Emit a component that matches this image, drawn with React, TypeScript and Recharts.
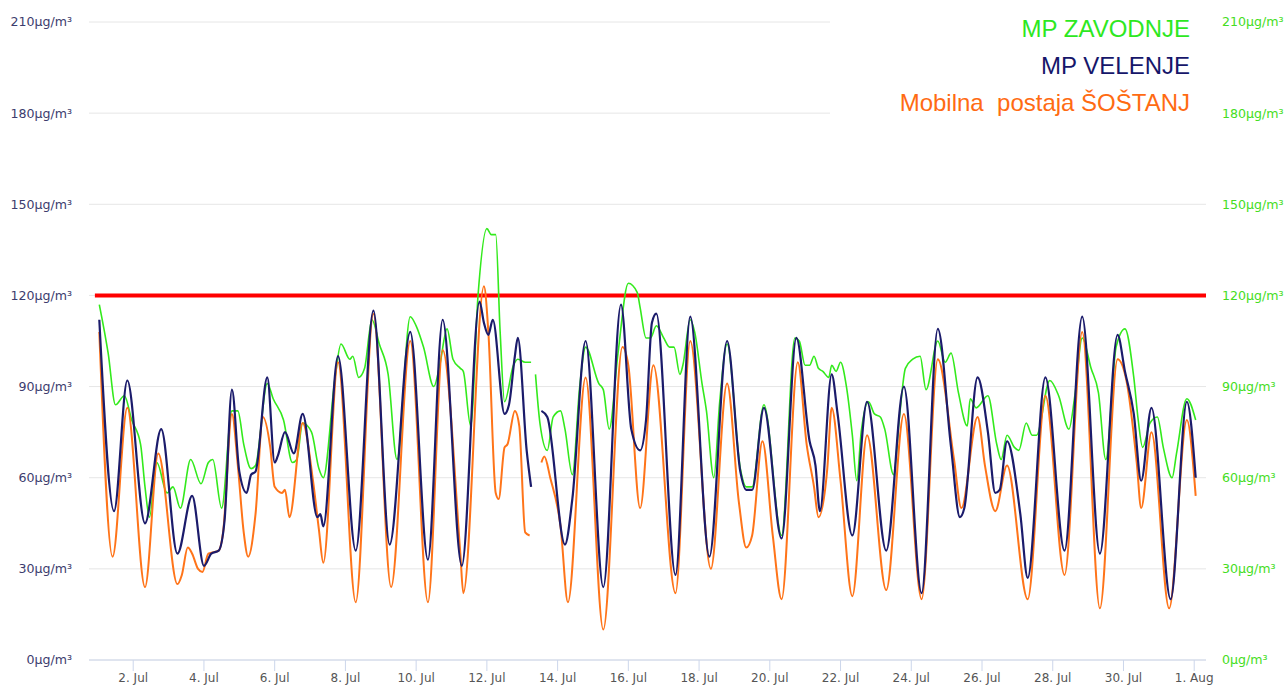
import { LineChart, Line, XAxis, YAxis, CartesianGrid, ReferenceLine } from 'recharts'

// hours since 1 Jul 00:00, µg/m³
const zavodnje: [number, number | null][] = [
  [1, 117], [7, 101], [12, 84], [18, 87], [23, 79], [29, 71], [32, 57], [35, 47], [40, 65], [47, 55],
  [51, 57], [56, 50], [63, 66], [70, 58], [75, 65], [78, 66], [84, 50], [91, 82], [95, 82], [99, 71],
  [104, 63], [107, 64], [115, 91], [119, 86], [126, 79], [132, 65], [135, 66], [139, 78], [145, 75], [150, 63],
  [153, 60], [161, 93], [165, 104], [171, 99], [173, 100], [177, 93], [181, 96], [186, 112], [191, 104], [197, 94],
  [203, 66], [212, 113], [216, 110], [221, 103], [228, 90], [232, 97], [237, 109], [241, 99], [246, 96], [248, 95],
  [253, 77], [258, 120], [264, 142], [267, 140], [270, 140], [273, 108], [276, 85], [282, 97], [285, 99], [290, 98],
  [294, 98], [295, null], [297, 94], [300, 78], [305, 69], [309, 80], [314, 82], [317, 76], [322, 61], [327, 90],
  [331, 103], [340, 91], [343, 89], [347, 76], [353, 101], [360, 124], [366, 121], [368, 116], [372, 106], [375, 106],
  [379, 110], [384, 106], [388, 103], [391, 103], [395, 94], [397, 97], [402, 112], [405, 108], [410, 91], [413, 82],
  [418, 60], [422, 85], [427, 104], [436, 63], [440, 57], [444, 57], [452, 84], [464, 41], [473, 106], [476, 105],
  [480, 97], [483, 97], [486, 100], [489, 96], [492, 95], [496, 93], [498, 97], [501, 95], [504, 98], [508, 90],
  [512, 74], [515, 59], [518, 75], [523, 85], [527, 81], [531, 80], [534, 76], [540, 61], [544, 80], [548, 96],
  [553, 99], [558, 100], [562, 89], [570, 105], [575, 98], [579, 101], [584, 88], [590, 77], [592, 86], [596, 83],
  [604, 87], [610, 71], [613, 66], [617, 74], [622, 70], [625, 69], [630, 78], [634, 74], [637, 74], [646, 92],
  [652, 87], [659, 76], [663, 87], [668, 106], [674, 96], [679, 88], [684, 66], [691, 103], [697, 109], [703, 93],
  [706, 79], [709, 70], [714, 78], [719, 80], [723, 70], [729, 60], [732, 68], [739, 86], [745, 79],
]

const velenje: [number, number | null][] = [
  [1, 112], [11, 49], [20, 92], [32, 45], [43, 76], [54, 35], [64, 54], [72, 31], [77, 35], [82, 36],
  [86, 46], [91, 89], [96, 62], [101, 55], [104, 61], [107, 62], [115, 93], [120, 65], [122, 67], [127, 75],
  [133, 68], [139, 81], [149, 47], [151, 48], [153, 44], [163, 100], [175, 36], [187, 115], [198, 38], [212, 108],
  [224, 33], [234, 112], [247, 31], [259, 118], [262, 111], [265, 107], [268, 112], [276, 81], [279, 84], [283, 100],
  [285, 106], [291, 69], [294, 57], [296, null], [301, 82], [305, 80], [317, 38], [322, 53], [331, 105], [343, 24],
  [355, 117], [362, 76], [368, 69], [372, 79], [376, 111], [379, 114], [392, 28], [402, 113], [415, 34], [427, 105],
  [436, 62], [440, 56], [444, 56], [452, 83], [464, 40], [474, 106], [483, 72], [487, 64], [490, 49], [498, 94],
  [502, 81], [512, 41], [522, 85], [535, 36], [547, 90], [559, 22], [570, 109], [579, 70], [585, 47], [588, 50],
  [597, 93], [604, 75], [609, 55], [612, 56], [617, 72], [626, 48], [631, 27], [643, 93], [656, 36], [668, 113],
  [680, 35], [692, 107], [697, 95], [703, 81], [708, 59], [715, 83], [728, 20], [739, 85], [745, 60],
]

const sostanj: [number, number | null][] = [
  [1, 108], [10, 34], [20, 83], [32, 24], [41, 68], [54, 25], [57, 28], [61, 37], [64, 35], [68, 30],
  [71, 29], [75, 35], [82, 36], [85, 42], [91, 81], [95, 64], [99, 42], [102, 34], [107, 48], [112, 80],
  [117, 70], [120, 57], [125, 55], [127, 56], [130, 47], [139, 78], [146, 59], [150, 43], [153, 32], [163, 98],
  [175, 19], [187, 114], [199, 24], [212, 105], [224, 19], [234, 102], [246, 35], [248, 22], [262, 123], [265, 108],
  [270, 55], [272, 53], [276, 70], [278, 71], [283, 82], [286, 77], [290, 42], [293, 41], [296, null], [301, 65],
  [303, 67], [307, 60], [314, 44], [319, 19], [331, 93], [343, 10], [356, 103], [360, 97], [368, 50], [377, 97],
  [392, 22], [402, 105], [416, 30], [427, 91], [435, 52], [440, 37], [444, 41], [451, 72], [458, 41], [464, 20],
  [475, 98], [481, 71], [486, 57], [489, 47], [495, 63], [498, 83], [504, 59], [512, 21], [522, 74], [535, 23],
  [547, 81], [559, 20], [570, 99], [581, 66], [586, 50], [597, 80], [602, 64], [609, 49], [617, 64], [631, 20],
  [643, 87], [656, 28], [668, 108], [680, 17], [692, 99], [698, 92], [705, 65], [708, 50], [715, 75], [727, 17],
  [739, 79], [745, 54],
]

const yTicks = [0, 30, 60, 90, 120, 150, 180, 210]
const xTicks = [24, 72, 120, 168, 216, 264, 312, 360, 408, 456, 504, 552, 600, 648, 696, 744]
const limit = 120

const series = [
  { name: 'MP ZAVODNJE', color: '#33ea1c', legend: '#2ee81f' },
  { name: 'MP VELENJE', color: '#1b1b6b', legend: '#16166a' },
  { name: 'Mobilna  postaja ŠOŠTANJ', color: '#ff7419', legend: '#ff6b12' },
]

const toRows = (a: [number, number | null][]) => a.map(([t, v]) => ({ t, v }))

const dayLabel = (t: number) => {
  const d = Math.round(t / 24) + 1
  return d > 31 ? `${d - 31}. Aug` : `${d}. Jul`
}

const axisFont = { fontFamily: 'DejaVu Sans', fontSize: 12 }
const yFont = { fontFamily: 'DejaVu Sans', fontSize: 12.6 }

export default function App() {
  return (
    <div style={{ position: 'absolute', left: 0, top: 0, width: 1287, height: 687, background: '#fff' }}>
      <LineChart width={1287} height={687} margin={{ top: 22, right: 0, bottom: 0, left: 0 }}>
        <CartesianGrid yAxisId="left" vertical={false} stroke="#e6e6e6" />
        <XAxis
          dataKey="t"
          type="number"
          domain={[-6, 752]}
          ticks={xTicks}
          tickFormatter={dayLabel}
          height={27}
          tickSize={11}
          tickMargin={2}
          stroke="#ccd6eb"
          tick={{ ...axisFont, fill: '#555' }}
          allowDataOverflow
        />
        <YAxis
          yAxisId="left"
          domain={[0, 210]}
          ticks={yTicks}
          width={89}
          axisLine={false}
          tickLine={false}
          tickMargin={11}
          tickFormatter={v => `${v}µg/m³`}
          tick={{ ...yFont, fill: '#3c3c6e' }}
        />
        <YAxis
          yAxisId="right"
          orientation="right"
          domain={[0, 210]}
          ticks={yTicks}
          width={81}
          axisLine={false}
          tickLine={false}
          tickMargin={10}
          tickFormatter={v => `${v}µg/m³`}
          tick={{ ...yFont, fill: '#44dd22' }}
        />
        <ReferenceLine
          yAxisId="left"
          segment={[{ x: -2, y: limit }, { x: 752, y: limit }]}
          stroke="#ff0000"
          strokeWidth={4}
        />
        <Line yAxisId="right" data={toRows(zavodnje)} dataKey="v" type="monotone" stroke={series[0].color}
          strokeWidth={1.6} dot={false} activeDot={false} isAnimationActive={false} />
        <Line yAxisId="left" data={toRows(sostanj)} dataKey="v" type="monotone" stroke={series[2].color}
          strokeWidth={2} dot={false} activeDot={false} isAnimationActive={false} />
        <Line yAxisId="left" data={toRows(velenje)} dataKey="v" type="monotone" stroke={series[1].color}
          strokeWidth={2.2} dot={false} activeDot={false} isAnimationActive={false} />
      </LineChart>
      <div
        style={{
          position: 'absolute', left: 830, top: 0, width: 360, height: 125, paddingRight: 16,
          background: '#fff', textAlign: 'right', fontFamily: 'Liberation Sans', fontSize: 24,
          lineHeight: '37px', paddingTop: 10, boxSizing: 'content-box', whiteSpace: 'pre',
        }}
      >
        {series.map(s => (
          <div key={s.name} style={{ color: s.legend }}>{s.name}</div>
        ))}
      </div>
    </div>
  )
}
